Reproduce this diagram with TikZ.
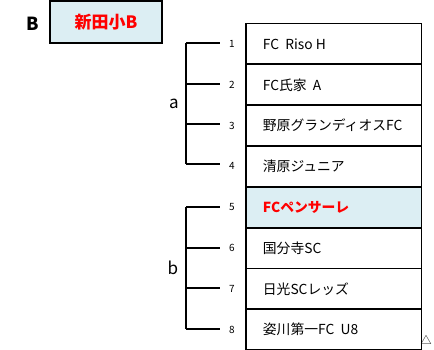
\documentclass[tikz,border=0pt]{standalone}
\usepackage{fontspec}
\setmainfont{Noto Sans CJK JP}
\definecolor{hl}{HTML}{DCEEF3}
\definecolor{redtxt}{HTML}{FF0000}
\begin{document}
\begin{tikzpicture}[x=1pt,y=-1pt,line width=1.8pt,
  rowbox/.style={draw, minimum width=175.5pt, minimum height=40.8pt, anchor=north west, inner sep=0pt},
  rowtxt/.style={anchor=west, inner sep=0pt, font=\fontsize{13.8}{15}\selectfont},
  num/.style={inner sep=0pt, font=\fontsize{10}{11}\selectfont},
  grp/.style={inner sep=0pt, font=\fontsize{17}{19}\selectfont},
  brk/.style={line width=1.8pt}]
\useasboundingbox (0,0) rectangle (434,350);
% title
\node[draw, fill=hl, minimum width=112pt, minimum height=41.5pt, inner sep=0pt] (title) at (106,22)
  {\textcolor{redtxt}{\bfseries\fontsize{17}{19}\selectfont 新田小B}};
\node[inner sep=0pt, font=\bfseries\fontsize{18}{20}\selectfont] (B) at (33,24) {B};
% rows
\node[rowbox] (r1) at (245,22.7) {};
\node[rowbox] (r2) at (245,63.5) {};
\node[rowbox] (r3) at (245,104.3) {};
\node[rowbox] (r4) at (245,145.1) {};
\node[rowbox, fill=hl] (r5) at (245,185.9) {};
\node[rowbox] (r6) at (245,226.7) {};
\node[rowbox] (r7) at (245,267.5) {};
\node[rowbox] (r8) at (245,308.3) {};
\node[rowtxt] (t1) at ([xshift=17pt]r1.west) {FC\ \ Riso H};
\node[rowtxt] (t2) at ([xshift=17pt]r2.west) {FC氏家\ \ A};
\node[rowtxt] (t3) at ([xshift=17pt]r3.west) {野原グランディオスFC};
\node[rowtxt] (t4) at ([xshift=17pt]r4.west) {清原ジュニア};
\node[rowtxt, text=redtxt, font=\bfseries\fontsize{13.8}{15}\selectfont] (t5) at ([xshift=17pt]r5.west) {FCペンサーレ};
\node[rowtxt] (t6) at ([xshift=17pt]r6.west) {国分寺SC};
\node[rowtxt] (t7) at ([xshift=17pt]r7.west) {日光SCレッズ};
\node[rowtxt] (t8) at ([xshift=17pt]r8.west) {姿川第一FC\ \ U8};
% numbers
\foreach \i in {1,...,8} {
  \node[num] (n\i) at ([xshift=-13pt]r\i.west) {\i};
}
% brackets
\coordinate (a1) at (186,43);
\coordinate (a2) at (186,84);
\coordinate (a3) at (186,124);
\coordinate (a4) at (186,164);
\coordinate (b5) at (186,207);
\coordinate (b6) at (186,248);
\coordinate (b7) at (186,288);
\coordinate (b8) at (186,329);
\coordinate (e1) at (220,43);
\coordinate (e2) at (220,84);
\coordinate (e3) at (220,124);
\coordinate (e4) at (220,164);
\coordinate (e5) at (220,207);
\coordinate (e6) at (220,248);
\coordinate (e7) at (220,288);
\coordinate (e8) at (220,329);
\draw[brk] (a1) -- (a4);
\draw[brk] (b5) -- (b8);
\draw[brk] (a1) -- (e1);
\draw[brk] (a2) -- (e2);
\draw[brk] (a3) -- (e3);
\draw[brk] (a4) -- (e4);
\draw[brk] (b5) -- (e5);
\draw[brk] (b6) -- (e6);
\draw[brk] (b7) -- (e7);
\draw[brk] (b8) -- (e8);
\node[grp] (ga) at (174,104) {a};
\node[grp] (gb) at (173,268) {b};
\node[inner sep=0pt, font=\fontsize{11}{12}\selectfont] (tri) at (426,340) {△};
\end{tikzpicture}
\end{document}
